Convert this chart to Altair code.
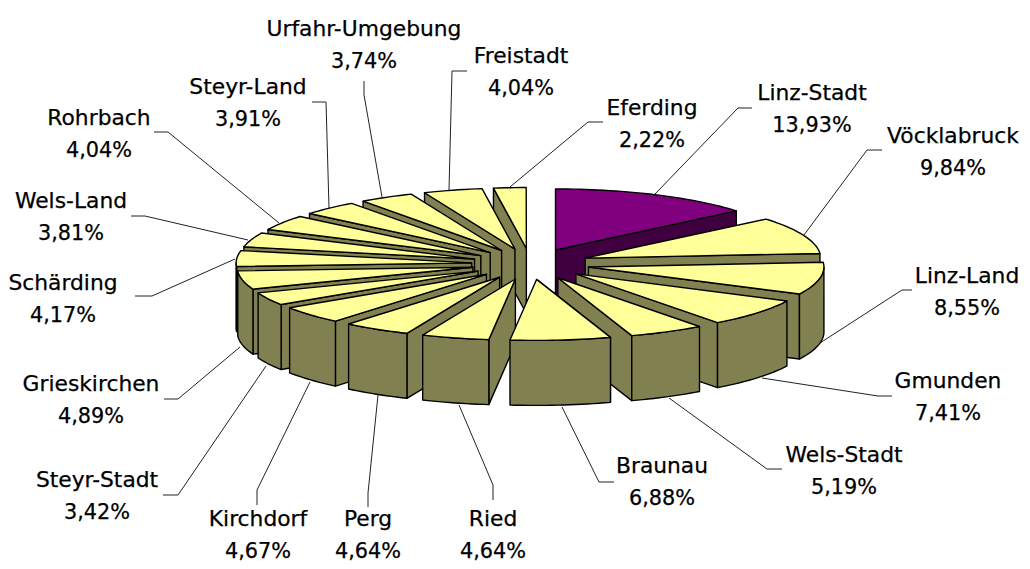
import math
import altair as alt

districts = ["Linz-Stadt", "Vöcklabruck", "Linz-Land", "Gmunden", "Wels-Stadt", "Braunau", "Ried", "Perg", "Kirchdorf",
             "Steyr-Stadt", "Grieskirchen", "Schärding", "Wels-Land", "Rohrbach", "Steyr-Land", "Urfahr-Umgebung",
             "Freistadt", "Eferding"]
shares = [13.93, 9.84, 8.55, 7.41, 5.19, 6.88, 4.64, 4.64, 4.67, 3.42, 4.89, 4.17, 3.81, 4.04, 3.91, 3.74, 4.04, 2.22]
share_labels = ["13,93%", "9,84%", "8,55%", "7,41%", "5,19%", "6,88%", "4,64%", "4,64%", "4,67%", "3,42%", "4,89%",
                "4,17%", "3,81%", "4,04%", "3,91%", "3,74%", "4,04%", "2,22%"]

# layout, in page pixels
label_x = [812, 953, 967, 948, 844, 662, 493, 368, 258, 97, 91, 63, 71, 99, 248, 364, 521, 652]
label_base = [100, 143, 283, 388, 462, 473, 526, 526, 526, 487, 391, 290, 208, 125, 94, 36, 63, 115]
leaders = [
    [(655, 194), (738, 108), (752, 108)], [(804, 235), (867, 150), (882, 150)], [(820, 343), (902, 290), (912, 290)],
    [(762, 378), (878, 396), (892, 396)], [(669, 398), (767, 469), (782, 469)], [(562, 407), (599, 482), (614, 482)],
    [(459, 405), (493, 485), (493, 500)], [(378, 395), (368, 493), (368, 507)], [(310, 382), (257, 490), (257, 505)],
    [(266, 366), (178, 495), (163, 495)], [(240, 347), (178, 399), (164, 399)], [(235, 259), (152, 296), (135, 296)],
    [(248, 240), (145, 216), (131, 216)], [(279, 223), (168, 132), (154, 132)], [(329, 208), (326, 102), (312, 102)],
    [(382, 197), (364, 95), (364, 81)], [(449, 190), (452, 71), (467, 71)], [(510, 187), (588, 122), (603, 122)],
]
CX, CY, RX, RY, EX, EY, H = 530.5, 264, 235.5, 61, 59, 15.5, 65
LINE_GAP = 31.5
FONT = "DejaVu Sans"
NAME_SIZE = 21.8
PCT_SIZE = 20.8


def rim(ax, ay, deg):
    a = math.radians(deg)
    return (ax + RX * math.sin(a), ay - RY * math.cos(a))


def arc(ax, ay, d0, d1):
    n = max(2, int((d1 - d0) / 1.5) + 1)
    return [rim(ax, ay, d0 + (d1 - d0) * i / n) for i in range(n + 1)]


def poly(points, fill):
    pts = [list(p) for p in points] + [list(points[0])]
    return {"type": "Feature", "properties": {"fill": fill}, "geometry": {"type": "Polygon", "coordinates": [pts]}}


slices = []
start = 0.0
for i, share in enumerate(shares):
    d0, d1 = start, start + share * 3.6
    start = d1
    mid = math.radians((d0 + d1) / 2)
    slices.append((i, d0, d1, CX + EX * math.sin(mid), CY - EY * math.cos(mid)))

features = []
for i, d0, d1, ax, ay in sorted(slices, key=lambda s: -abs((s[1] + s[2]) / 2 - 180)):
    top_col, side_col = ("#800080", "#400040") if i == 0 else ("#FFFF99", "#808050")
    edge_d = d1 if (d1 % 360) < 180 else d0
    p = rim(ax, ay, edge_d)
    features.append(poly([(ax, ay), p, (p[0], p[1] + H), (ax, ay + H)], side_col))
    lo, hi = max(d0, 90), min(d1, 270)
    if hi > lo:
        a = arc(ax, ay, lo, hi)
        features.append(poly(a + [(x, y + H) for x, y in reversed(a)], side_col))
    features.append(poly([(ax, ay)] + arc(ax, ay, d0, d1), top_col))

leader_features = [{"type": "Feature", "properties": {},
                    "geometry": {"type": "LineString", "coordinates": [list(p) for p in line]}} for line in leaders]

name_rows = [{"x": x, "y": b, "t": t} for x, b, t in zip(label_x, label_base, districts)]
pct_rows = [{"x": x, "y": b + LINE_GAP, "t": t} for x, b, t in zip(label_x, label_base, share_labels)]

proj = dict(type="identity", scale=1, translate=[-8, -8])

leader_layer = alt.Chart(alt.Data(values=leader_features)).mark_geoshape(
    filled=False, stroke="#222222", strokeWidth=1).project(**proj)
pie_layer = alt.Chart(alt.Data(values=features)).mark_geoshape(
    stroke="#000000", strokeWidth=1.4, strokeJoin="round").encode(
    fill=alt.Fill("properties.fill:N", scale=None)).project(**proj)


def text_layer(rows, size):
    return alt.Chart(alt.Data(values=rows)).mark_text(
        font=FONT, fontSize=size, color="#000000", stroke="#000000", strokeWidth=0.25,
        align="center", baseline="alphabetic").encode(
        longitude="x:Q", latitude="y:Q", text="t:N").project(**proj)


chart = alt.layer(leader_layer, pie_layer, text_layer(name_rows, NAME_SIZE), text_layer(pct_rows, PCT_SIZE)).properties(
    width=1014, height=553, padding=0, autosize=alt.AutoSizeParams(type="none")
).configure_view(stroke=None)

chart.save("out.html", embed_options={"renderer": "svg", "actions": False})
